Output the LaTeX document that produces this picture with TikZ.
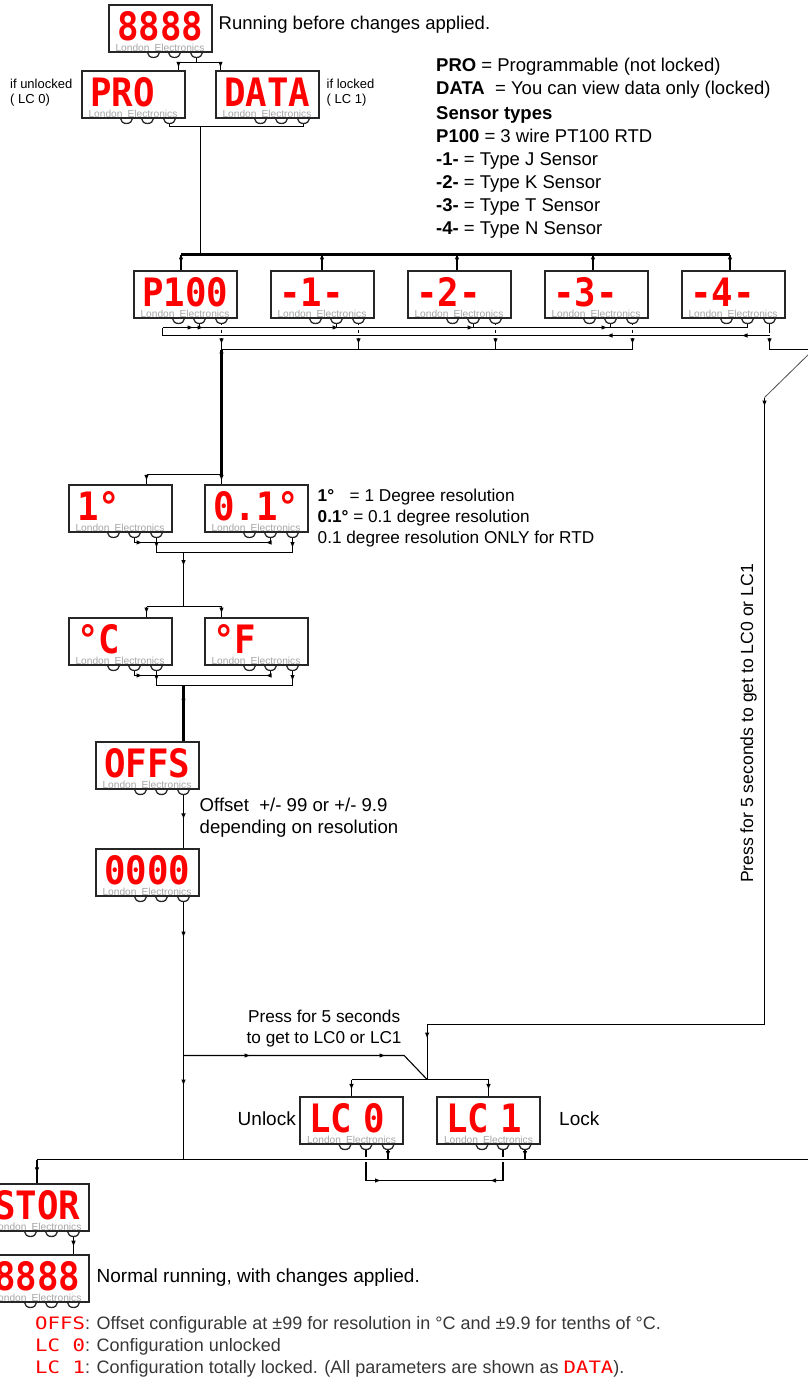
\documentclass[tikz,border=0pt]{standalone}
\usepackage{fontspec}
\setmainfont{Liberation Sans}
\newfontfamily\segFont{DejaVu Sans Mono}
\usepackage{graphicx}
\usetikzlibrary{shapes,arrows,arrows.meta}
\usetikzlibrary{positioning,calc,decorations.markings}

\definecolor{segRed}{RGB}{255,0,0}
\definecolor{lonGray}{RGB}{165,165,165}
\definecolor{noteGray}{RGB}{55,55,55}

\newcommand{\noteFont}{\fontsize{19}{23}\selectfont}
\newcommand{\legendFont}{\fontsize{18.5}{23}\selectfont}
\newcommand{\midFont}{\fontsize{17.2}{21}\selectfont}
\newcommand{\smallNote}{\fontsize{13}{15}\selectfont}
\newcommand{\lonFont}{\fontsize{10.2}{11}\selectfont}
\newcommand{\seg}[1]{\raisebox{3.5pt}{\scalebox{1.05}[1.15]{#1}}}
\newcommand{\footSeg}[1]{{\segFont\color{segRed}\scalebox{1.15}[0.95]{#1}}}
% three keys under a display, with coordinates <name>-k1 .. <name>-k3
\newcommand{\ledKeys}[1]{%
  \foreach \k/\dx in {1/59,2/38,3/16}{%
    \draw[keyLine] ($(#1.south east)+(-\dx-6,0)$) arc[start angle=180,end angle=360,x radius=6pt,y radius=5pt];
    \coordinate (#1-k\k) at ($(#1.south east)+(-\dx,5)$);
  }}

\begin{document}
\begin{tikzpicture}[x=1pt,y=-1pt]
\tikzset{>={Latex[length=6pt,width=4.6pt]}}
\tikzset{wire/.style={line width=1.1pt,draw=black}}
\tikzset{thickWire/.style={line width=2.4pt,draw=black}}
\tikzset{keyLine/.style={line width=1.3pt,draw=black!85}}
\tikzset{crossOver/.style={preaction={draw=white,line width=4.5pt}}}
\tikzset{arrowMid/.style={postaction={decorate},decoration={markings,mark=at position #1 with {\arrow{>}}}},arrowMid/.default=0.5}
\tikzset{swapArrows/.style 2 args={postaction={decorate},decoration={markings,mark=at position #1 with {\arrow{>}},mark=at position #2 with {\arrowreversed{>}}}}}
\tikzset{lonLabel/.style={anchor=south,inner sep=1pt,font=\lonFont,text=lonGray}}
\tikzset{ledBox/.style={draw=black!85,line width=2pt,fill=white,minimum width=103pt,minimum height=47pt,inner xsep=9pt,inner ysep=0pt,text width=85pt,align=left,font=\segFont\bfseries\fontsize{34}{34}\selectfont,text=segRed,label={[lonLabel]below:London\hspace{5pt}Electronics}}}
\tikzset{noteText/.style={font=\noteFont,align=left,inner sep=0pt}}

\useasboundingbox (0,0) rectangle (808,1392);

% displays
\node[ledBox] (run) at (160,28) {\seg{8888}};
\node[ledBox] (pro) at (133,94) {\seg{PRO}};
\node[ledBox,right=29pt of pro] (data) {\seg{DATA}};
\node[ledBox] (p100) at (185,294) {\seg{P100}};
\node[ledBox,right=32pt of p100] (typeJ) {\seg{-1-}};
\node[ledBox,right=32pt of typeJ] (typeK) {\seg{-2-}};
\node[ledBox,right=32pt of typeK] (typeT) {\seg{-3-}};
\node[ledBox,right=32pt of typeT] (typeN) {\seg{-4-}};
\node[ledBox] (res1) at (120,508) {\seg{1°}};
\node[ledBox,right=31pt of res1] (res01) {\seg{0.1°}};
\node[ledBox,below=84pt of res1] (degC) {\seg{°C}};
\node[ledBox,right=31pt of degC] (degF) {\seg{°F}};
\node[ledBox] (offs) at (147,765) {\seg{OFFS}};
\node[ledBox,below=58pt of offs] (offVal) {\seg{0000}};
\node[ledBox] (lcZero) at (351.5,1120) {\seg{LC 0}};
\node[ledBox,right=32pt of lcZero] (lcOne) {\seg{LC 1}};
\node[ledBox] (stor) at (37,1207) {\seg{STOR}};
\node[ledBox,below=22pt of stor] (norm) {\seg{8888}};

\foreach \b in {run,pro,data,p100,typeJ,typeK,typeT,typeN,res1,res01,degC,degF,offs,offVal,lcZero,lcOne,stor,norm}
  \ledKeys{\b};

% power up: PRO or DATA
\coordinate (jTop) at ($(run-k3)+(0,5)$);
\coordinate (proIn) at ($(pro.north east)+(-7,0)$);
\coordinate (dataIn) at ($(data.north west)+(6,0)$);
\draw[wire] (run-k3) -- (jTop);
\draw[wire] (proIn |- jTop) -- (dataIn |- jTop);
\draw[wire,arrowMid=0.75] (proIn |- jTop) -- (proIn);
\draw[wire,arrowMid=0.75] (dataIn |- jTop) -- (dataIn);

\coordinate (jMode) at ($(pro-k3)+(31,3)$);
\draw[wire] (pro-k3) |- (jMode) -| (data-k3);
\coordinate (busL) at ($(p100.north)+(-4,-15)$);
\coordinate (busR) at ($(typeN.north)+(-3,-15)$);
\draw[wire] (jMode) -- (jMode |- busL);
\draw[thickWire] (busL) -- (busR);
\foreach \s/\dx in {p100/-4,typeJ/0,typeK/-2,typeT/-3,typeN/-3}
  \draw[wire,arrowMid=0.6] ($(\s.north)+(\dx,-15)$) -- ($(\s.north)+(\dx,0)$);

% sensor selection
\coordinate (selRow) at ($(p100-k3)+(0,26)$);
\coordinate (exitA) at ($(typeN-k3)+(0,26)$);
\foreach \s in {p100,typeJ,typeK,typeT,typeN}
  \draw[wire,arrowMid=0.8] (\s-k3) -- ($(\s-k3)+(0,26)$);
\coordinate (loopA) at ($(p100-k1)+(-16,4)$);
\coordinate (loopB) at ($(loopA)+(0,8)$);
\draw[wire,crossOver,postaction={decorate},decoration={markings,
  mark=at position 31pt with {\arrow{>}},mark=at position 41pt with {\arrow{>}},
  mark=at position 176pt with {\arrow{>}},mark=at position 311pt with {\arrow{>}},
  mark=at position 445pt with {\arrow{>}}}] (loopA) -- (loopA -| typeN-k2);
\draw[wire,crossOver,postaction={decorate},decoration={markings,
  mark=at position 28pt with {\arrow{>}},mark=at position 163pt with {\arrow{>}}}] (loopB -| typeN-k3) -- (loopB);
\draw[wire] (loopA) -- (loopB);
\foreach \s in {p100,typeJ,typeK,typeT,typeN}
  \draw[wire] (\s-k2) -- (\s-k2 |- loopA);
\draw[wire] (selRow) -- (selRow -| typeT-k3);
\draw[wire] (exitA) -- ($(exitA)+(44,0)$) coordinate (exitB);
\draw[line width=0.8pt,draw=black!70] (exitB) -- ($(exitB)+(-49,48)$) coordinate (exitC);

% resolution
\coordinate (res1In) at ($(res1.north east)+(-26,0)$);
\coordinate (resSplit) at ($(selRow |- res1.north)+(0,-9)$);
\draw[thickWire,arrowMid=9pt] (selRow) -- (resSplit);
\draw[wire] (res1In |- resSplit) -- (resSplit);
\draw[wire,arrowMid=0.7] (res1In |- resSplit) -- (res1In);
\draw[wire,arrowMid=0.7] (resSplit) -- (resSplit |- res01.north);
\draw[wire,swapArrows={13pt}{136pt}] (res1-k2) -- ($(res1-k2)+(0,5)$) -| (res01-k2);
\coordinate (jRes) at ($(res1-k3)+(27,15)$);
\draw[wire,arrowMid=0.7] (res1-k3) -- (res1-k3 |- jRes);
\draw[wire,arrowMid=0.7] (res01-k3) -- (res01-k3 |- jRes);
\draw[wire] (res1-k3 |- jRes) -- (res01-k3 |- jRes);

% units
\coordinate (degCIn) at ($(degC.north east)+(-26,0)$);
\coordinate (degFIn) at ($(degF.north west)+(18,0)$);
\coordinate (degSplit) at ($(jRes |- degC.north)+(0,-10)$);
\draw[wire,arrowMid=0.25] (jRes) -- (degSplit);
\draw[wire] (degCIn |- degSplit) -- (degFIn |- degSplit);
\draw[wire,arrowMid=0.7] (degCIn |- degSplit) -- (degCIn);
\draw[wire,arrowMid=0.7] (degFIn |- degSplit) -- (degFIn);
\draw[wire,swapArrows={13pt}{136pt}] (degC-k2) -- ($(degC-k2)+(0,5)$) -| (degF-k2);
\coordinate (jDeg) at ($(degC-k3)+(27,15)$);
\draw[wire,arrowMid=0.7] (degC-k3) -- (degC-k3 |- jDeg);
\draw[wire,arrowMid=0.7] (degF-k3) -- (degF-k3 |- jDeg);
\draw[wire] (degC-k3 |- jDeg) -- (degF-k3 |- jDeg);
\draw[thickWire,arrowMid=0.35] (jDeg) -- (jDeg |- offs.north);

% offset
\draw[wire,arrowMid=0.47] (offs-k3) -- (offs-k3 |- offVal.north);

% lock level
\coordinate (lcSplit) at ($(lcZero.north)+(0,-16)$);
\coordinate (lcSplitR) at ($(lcOne.north)+(0,-16)$);
\coordinate (jLC) at ($(lcSplit)!0.552!(lcSplitR)$);
\coordinate (pressTop) at ($(jLC)+(0,-55)$);
\coordinate (brB) at ($(jLC)+(-23,-24)$);
\coordinate (brA) at (offVal-k3 |- brB);
\coordinate (busLowL) at ($(stor.north)+(0,-23)$);
\coordinate (lcLoop) at ($(lcZero-k2)+(0,31)$);
\draw[wire,swapArrows={46pt}{155pt}] (lcZero-k2) -- (lcZero-k2 |- lcLoop) -- (lcOne-k2 |- lcLoop) -- (lcOne-k2);
\draw[wire,crossOver] (busLowL) -- ($(busLowL -| lcOne.east)+(300,0)$);
\draw[wire,arrowMid=0.75] (lcZero-k3) -- (lcZero-k3 |- busLowL);
\draw[wire,arrowMid=0.75] (lcOne-k3) -- (lcOne-k3 |- busLowL);
\draw[wire,postaction={decorate},decoration={markings,
  mark=at position 36pt with {\arrow{>}},mark=at position 184pt with {\arrow{>}}}] (offVal-k3) -- (offVal-k3 |- busLowL);
\draw[wire,postaction={decorate},decoration={markings,
  mark=at position 67pt with {\arrow{>}},mark=at position 202pt with {\arrow{>}}}] (brA) -- (brB) -- (jLC);
\draw[wire,arrowMid=9pt] (exitC) -- (exitC |- pressTop);
\draw[wire] (exitC |- pressTop) -- (pressTop);
\draw[wire,arrowMid=14pt] (pressTop) -- (jLC);
\draw[wire] (lcSplit) -- (lcSplitR);
\draw[wire,arrowMid=0.65] (lcSplit) -- (lcZero.north);
\draw[wire,arrowMid=0.65] (lcSplitR) -- (lcOne.north);

% store and run
\draw[wire,arrowMid=0.6] (busLowL) -- (stor.north);
\draw[wire,arrowMid=0.6] (stor-k3) -- (stor-k3 |- norm.north);

% notes
\node[noteText,font=\legendFont,anchor=west] (runNote) at ($(run.east)+(6,-3)$) {Running before changes applied.};
\node[noteText,font=\smallNote,anchor=east] (unlockNote) at ($(pro.west)+(-8,-1)$) {if unlocked\\( LC 0)};
\node[noteText,font=\smallNote,anchor=west] (lockNote) at ($(data.east)+(7,-1)$) {if locked\\( LC 1)};
\node[noteText,font=\legendFont,anchor=north west] (legend) at (436,58) {\textbf{PRO} = Programmable (not locked)\\
  \textbf{DATA}\ \ = You can view data only (locked)\\[2pt]
  \textbf{Sensor types}\\
  \textbf{P100} = 3 wire PT100 RTD\\
  \textbf{-1-} = Type J Sensor\\
  \textbf{-2-} = Type K Sensor\\
  \textbf{-3-} = Type T Sensor\\
  \textbf{-4-} = Type N Sensor};
\node[noteText,font=\midFont,anchor=west] (resNote) at ($(res01.east)+(9,10)$) {\makebox[32pt][l]{\textbf{1°}}= 1 Degree resolution\\
  \textbf{0.1°} = 0.1 degree resolution\\
  0.1 degree resolution ONLY for RTD};
\node[noteText,font=\fontsize{18.6}{22}\selectfont,anchor=west] (offNote) at ($(offs.east)+(0,53)$) {Offset\ \ +/- 99 or +/- 9.9\\depending on resolution};
\node[noteText,font=\midFont,align=center] (pressNote) at ($(brB)+(-80,-27)$) {Press for 5 seconds\\to get to LC0 or LC1};
\node[noteText,font=\fontsize{17.6}{21}\selectfont,rotate=90] (holdNote) at ($(exitC)+(-16,326)$) {Press for 5 seconds to get to LC0 or LC1};
\node[noteText,anchor=east] (unlockTxt) at ($(lcZero.west)+(-3,-1)$) {Unlock};
\node[noteText,anchor=west] (lockTxt) at ($(lcOne.east)+(18,-1)$) {Lock};
\node[noteText,anchor=west] (normNote) at ($(norm.east)+(7,0)$) {Normal running, with changes applied.};
\node[noteText,font=\fontsize{18}{22}\selectfont,text=noteGray,anchor=north west] (footNote) at (35,1316) {\footSeg{OFFS}: Offset configurable at ±99 for resolution in °C and ±9.9 for tenths of °C.\\
  \footSeg{LC 0}: Configuration unlocked\\
  \footSeg{LC 1}: Configuration totally locked. (All parameters are shown as \footSeg{DATA}).};
\end{tikzpicture}
\end{document}
